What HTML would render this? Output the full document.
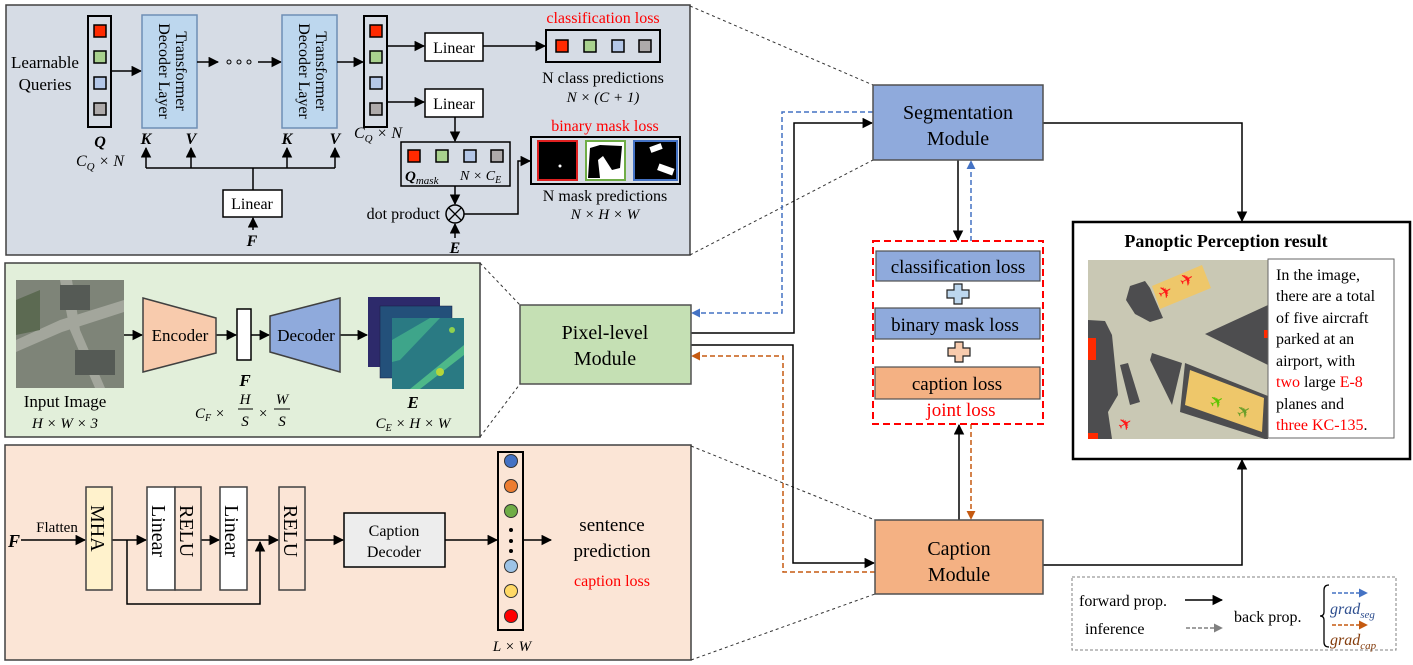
<!DOCTYPE html>
<html><head><meta charset="utf-8"><style>
html,body{margin:0;padding:0;background:#fff;}
svg{display:block;font-family:"Liberation Serif",serif;}
</style></head><body>
<svg width="1413" height="665" viewBox="0 0 1413 665" xmlns="http://www.w3.org/2000/svg">
<defs>
<marker id="a" viewBox="0 0 10 10" refX="9" refY="5" markerWidth="7" markerHeight="7" orient="auto"><path d="M0,0L10,5L0,10z" fill="#000"/></marker>
<marker id="ab" viewBox="0 0 10 10" refX="9" refY="5" markerWidth="6" markerHeight="6" orient="auto"><path d="M0,0L10,5L0,10z" fill="#4472c4"/></marker>
<marker id="ao" viewBox="0 0 10 10" refX="9" refY="5" markerWidth="6" markerHeight="6" orient="auto"><path d="M0,0L10,5L0,10z" fill="#c55a11"/></marker>
<marker id="ag" viewBox="0 0 10 10" refX="9" refY="5" markerWidth="6" markerHeight="6" orient="auto"><path d="M0,0L10,5L0,10z" fill="#808080"/></marker>
</defs>

<!-- ============ TOP PANEL ============ -->
<rect x="6" y="5" width="684" height="250" fill="#d6dce5" stroke="#404040" stroke-width="1.5"/>
<g font-size="17" text-anchor="middle">
<text x="45" y="68">Learnable</text><text x="45" y="90">Queries</text>
</g>
<rect x="88" y="16" width="23" height="111" fill="#d6dce5" stroke="#000" stroke-width="2"/>
<g stroke="#000" stroke-width="1.5">
<rect x="94" y="25" width="12" height="12" fill="#ff2a00"/>
<rect x="94" y="51" width="12" height="12" fill="#a9d18e"/>
<rect x="94" y="77" width="12" height="12" fill="#b4c7e7"/>
<rect x="94" y="103" width="12" height="12" fill="#aeaaaa"/>
</g>
<text x="100" y="147" font-size="16" font-weight="bold" font-style="italic" text-anchor="middle">Q</text>
<text x="100" y="166" font-size="16" font-style="italic" text-anchor="middle">C<tspan font-size="11" dy="4">Q</tspan><tspan dy="-4"> × N</tspan></text>
<line x1="111" y1="71" x2="141" y2="71" stroke="#000" stroke-width="1.5" marker-end="url(#a)"/>
<rect x="142" y="15" width="55" height="113" fill="#bdd7ee" stroke="#6f8fb5" stroke-width="1.5"/>
<g font-size="16" text-anchor="middle" transform="translate(176,71) rotate(90)"><text x="0" y="0">Transformer</text><text x="0" y="17">Decoder Layer</text></g>
<line x1="197" y1="62" x2="218" y2="62" stroke="#000" stroke-width="1.5" marker-end="url(#a)"/>
<g fill="none" stroke="#000" stroke-width="1"><circle cx="229" cy="62" r="2"/><circle cx="239" cy="62" r="2"/><circle cx="249" cy="62" r="2"/></g>
<line x1="258" y1="62" x2="281" y2="62" stroke="#000" stroke-width="1.5" marker-end="url(#a)"/>
<rect x="282" y="15" width="55" height="113" fill="#bdd7ee" stroke="#6f8fb5" stroke-width="1.5"/>
<g font-size="16" text-anchor="middle" transform="translate(316,71) rotate(90)"><text x="0" y="0">Transformer</text><text x="0" y="17">Decoder Layer</text></g>
<line x1="337" y1="62" x2="363" y2="62" stroke="#000" stroke-width="1.5" marker-end="url(#a)"/>
<rect x="364" y="16" width="23" height="111" fill="#d6dce5" stroke="#000" stroke-width="2"/>
<g stroke="#000" stroke-width="1.5">
<rect x="370" y="25" width="12" height="12" fill="#ff2a00"/>
<rect x="370" y="51" width="12" height="12" fill="#a9d18e"/>
<rect x="370" y="77" width="12" height="12" fill="#b4c7e7"/>
<rect x="370" y="103" width="12" height="12" fill="#aeaaaa"/>
</g>
<text x="378" y="138" font-size="16" font-style="italic" text-anchor="middle">C<tspan font-size="11" dy="4">Q</tspan><tspan dy="-4"> × N</tspan></text>
<g font-size="16" font-weight="bold" font-style="italic" text-anchor="middle">
<text x="146" y="144">K</text><text x="191" y="144">V</text><text x="287" y="144">K</text><text x="335" y="144">V</text>
</g>
<g stroke="#000" stroke-width="1.5" fill="none">
<polyline points="146,168 335,168"/>
<line x1="146" y1="168" x2="146" y2="148" marker-end="url(#a)"/>
<line x1="191" y1="168" x2="191" y2="148" marker-end="url(#a)"/>
<line x1="287" y1="168" x2="287" y2="148" marker-end="url(#a)"/>
<line x1="335" y1="168" x2="335" y2="148" marker-end="url(#a)"/>
<line x1="253" y1="190" x2="253" y2="168"/>
<line x1="253" y1="230" x2="253" y2="218" marker-end="url(#a)"/>
</g>
<rect x="223" y="190" width="59" height="27" fill="#fff" stroke="#000" stroke-width="1.5"/>
<text x="252" y="209" font-size="16" text-anchor="middle">Linear</text>
<text x="252" y="246" font-size="16" font-weight="bold" font-style="italic" text-anchor="middle">F</text>

<g stroke="#000" stroke-width="1.5" fill="none">
<line x1="387" y1="46" x2="424" y2="46" marker-end="url(#a)"/>
<line x1="483" y1="46" x2="545" y2="46" marker-end="url(#a)"/>
<line x1="387" y1="102" x2="424" y2="102" marker-end="url(#a)"/>
<line x1="455" y1="117" x2="455" y2="141" marker-end="url(#a)"/>
<line x1="455" y1="186" x2="455" y2="204" marker-end="url(#a)"/>
<line x1="455" y1="238" x2="455" y2="224" marker-end="url(#a)"/>
<polyline points="464,214 518,214 518,161 530,161" marker-end="url(#a)"/>
</g>
<rect x="425" y="33" width="58" height="28" fill="#fff" stroke="#000" stroke-width="1.5"/>
<text x="454" y="53" font-size="16" text-anchor="middle">Linear</text>
<rect x="425" y="89" width="58" height="28" fill="#fff" stroke="#000" stroke-width="1.5"/>
<text x="454" y="109" font-size="16" text-anchor="middle">Linear</text>
<rect x="546" y="30" width="114" height="32" fill="#d6dce5" stroke="#000" stroke-width="2"/>
<g stroke="#000" stroke-width="1.5">
<rect x="556" y="40" width="12" height="12" fill="#ff2a00"/>
<rect x="584" y="40" width="12" height="12" fill="#a9d18e"/>
<rect x="612" y="40" width="12" height="12" fill="#b4c7e7"/>
<rect x="639" y="40" width="12" height="12" fill="#aeaaaa"/>
</g>
<text x="603" y="23" font-size="16" fill="#ff0000" text-anchor="middle">classification loss</text>
<text x="603" y="83" font-size="16" text-anchor="middle">N class predictions</text>
<text x="603" y="102" font-size="15" font-style="italic" text-anchor="middle">N × (C + 1)</text>
<rect x="401" y="142" width="109" height="44" fill="#d6dce5" stroke="#000" stroke-width="1.5"/>
<g stroke="#000" stroke-width="1.5">
<rect x="408" y="150" width="12" height="12" fill="#ff2a00"/>
<rect x="436" y="150" width="12" height="12" fill="#a9d18e"/>
<rect x="464" y="150" width="12" height="12" fill="#b4c7e7"/>
<rect x="491" y="150" width="12" height="12" fill="#aeaaaa"/>
</g>
<text x="405" y="181" font-size="15" font-weight="bold" font-style="italic">Q<tspan font-size="11" font-weight="normal" dy="3">mask</tspan></text>
<text x="460" y="180" font-size="14" font-style="italic">N × C<tspan font-size="10" dy="3">E</tspan></text>
<circle cx="455" cy="214" r="9" fill="none" stroke="#000" stroke-width="1.5"/>
<path d="M449,208L461,220M461,208L449,220" stroke="#000" stroke-width="1.3"/>
<text x="440" y="219" font-size="16" text-anchor="end">dot product</text>
<text x="455" y="253" font-size="16" font-weight="bold" font-style="italic" text-anchor="middle">E</text>
<rect x="531" y="137" width="149" height="47" fill="#d6dce5" stroke="#000" stroke-width="2"/>
<rect x="538" y="141" width="39" height="39" fill="#000" stroke="#e02020" stroke-width="2"/>
<circle cx="560" cy="166" r="1.5" fill="#fff"/>
<rect x="586" y="141" width="39" height="39" fill="#fff" stroke="#70ad47" stroke-width="2"/>
<path d="M590,148L600,145L622,146L620,168L612,170L603,156L598,160L600,178L588,178Z" fill="#000"/>
<rect x="634" y="141" width="43" height="39" fill="#000" stroke="#4472c4" stroke-width="2"/>
<rect x="650" y="145" width="12" height="6" fill="#fff" transform="rotate(-20 656 148)"/>
<rect x="658" y="166" width="16" height="7" fill="#fff" transform="rotate(20 666 169)"/>
<text x="605" y="131" font-size="16" fill="#ff0000" text-anchor="middle">binary mask loss</text>
<text x="605" y="201" font-size="16" text-anchor="middle">N mask predictions</text>
<text x="605" y="219" font-size="15" font-style="italic" text-anchor="middle">N × H × W</text>

<!-- ============ GREEN PANEL ============ -->
<rect x="5" y="263" width="475" height="174" fill="#e2efda" stroke="#404040" stroke-width="1.5"/>
<rect x="16" y="280" width="108" height="108" fill="#7e8478"/>
<path d="M16,340L60,320L124,300L124,312L62,332L16,352Z" fill="#a3a69c"/>
<path d="M60,280L70,330L95,388L105,388L80,330L72,280Z" fill="#a3a69c"/>
<rect x="60" y="285" width="30" height="25" fill="#555a55"/>
<rect x="75" y="350" width="40" height="25" fill="#555a55"/>
<path d="M16,300L40,290L40,330L16,335Z" fill="#5c6a52"/>
<text x="65" y="407" font-size="17" text-anchor="middle">Input Image</text>
<text x="65" y="428" font-size="15" font-style="italic" text-anchor="middle">H × W × 3</text>
<g stroke="#000" stroke-width="1.5">
<line x1="124" y1="335" x2="142" y2="335" marker-end="url(#a)"/>
<line x1="216" y1="335" x2="236" y2="335" marker-end="url(#a)"/>
<line x1="251" y1="335" x2="269" y2="335" marker-end="url(#a)"/>
<line x1="340" y1="335" x2="367" y2="335" marker-end="url(#a)"/>
</g>
<polygon points="143,298 216,318 216,353 143,372" fill="#f8cbad" stroke="#404040" stroke-width="1.5"/>
<text x="180" y="341" font-size="17" text-anchor="middle">Encoder</text>
<rect x="237" y="309" width="14" height="51" fill="#fff" stroke="#000" stroke-width="1.5"/>
<text x="245" y="386" font-size="17" font-weight="bold" font-style="italic" text-anchor="middle">F</text>
<g font-size="15" font-style="italic" text-anchor="middle">
<text x="210" y="418">C<tspan font-size="10" dy="3">F</tspan><tspan dy="-3"> ×</tspan></text>
<text x="245" y="404">H</text><line x1="238" y1="409" x2="253" y2="409" stroke="#000"/><text x="245" y="426">S</text>
<text x="263" y="418">×</text>
<text x="282" y="404">W</text><line x1="274" y1="409" x2="290" y2="409" stroke="#000"/><text x="282" y="426">S</text>
</g>
<polygon points="270,316 340,298 340,372 270,352" fill="#8faadc" stroke="#404040" stroke-width="1.5"/>
<text x="306" y="341" font-size="17" text-anchor="middle">Decoder</text>
<rect x="368" y="297" width="72" height="70" fill="#2d2a6b"/>
<rect x="380" y="306" width="72" height="72" fill="#23507a" stroke="#1a1a40" stroke-width="0.5"/>
<rect x="392" y="318" width="72" height="71" fill="#2a7a83"/>
<path d="M392,340L430,318L440,318L400,360L392,362Z" fill="#3ea58a"/>
<path d="M410,389L464,345L464,355L420,389Z" fill="#4db889"/>
<circle cx="440" cy="372" r="4" fill="#b5d63a"/><circle cx="452" cy="330" r="3" fill="#8fd14f"/>
<text x="413" y="408" font-size="17" font-weight="bold" font-style="italic" text-anchor="middle">E</text>
<text x="413" y="428" font-size="15" font-style="italic" text-anchor="middle">C<tspan font-size="10" dy="3">E</tspan><tspan dy="-3"> × H × W</tspan></text>

<!-- ============ PEACH PANEL ============ -->
<rect x="5" y="445" width="686" height="215" fill="#fbe5d6" stroke="#404040" stroke-width="1.5"/>
<text x="14" y="547" font-size="18" font-weight="bold" font-style="italic" text-anchor="middle">F</text>
<text x="57" y="532" font-size="15" text-anchor="middle">Flatten</text>
<g stroke="#000" stroke-width="1.5" fill="none">
<line x1="21" y1="540" x2="85" y2="540" marker-end="url(#a)"/>
<line x1="112" y1="540" x2="146" y2="540" marker-end="url(#a)"/>
<line x1="201" y1="540" x2="219" y2="540" marker-end="url(#a)"/>
<line x1="247" y1="540" x2="278" y2="540" marker-end="url(#a)"/>
<polyline points="127,540 127,604 260,604 260,542" marker-end="url(#a)"/>
<line x1="305" y1="540" x2="343" y2="540" marker-end="url(#a)"/>
<line x1="445" y1="540" x2="497" y2="540" marker-end="url(#a)"/>
<line x1="523" y1="540" x2="551" y2="540" marker-end="url(#a)"/>
</g>
<rect x="86" y="487" width="26" height="103" fill="#fff2cc" stroke="#404040" stroke-width="1.5"/>
<rect x="147" y="487" width="28" height="103" fill="#fff" stroke="#404040" stroke-width="1.5"/>
<rect x="175" y="487" width="26" height="103" fill="#fbe5d6" stroke="#404040" stroke-width="1.5"/>
<rect x="220" y="487" width="27" height="103" fill="#fff" stroke="#404040" stroke-width="1.5"/>
<rect x="279" y="487" width="26" height="103" fill="#fbe5d6" stroke="#404040" stroke-width="1.5"/>
<g font-size="20">
<text transform="translate(91,505) rotate(90)">MHA</text>
<text transform="translate(152,505) rotate(90)">Linear</text>
<text transform="translate(180,505) rotate(90)">RELU</text>
<text transform="translate(225,505) rotate(90)">Linear</text>
<text transform="translate(284,505) rotate(90)">RELU</text>
</g>
<rect x="344" y="513" width="101" height="54" fill="#ededed" stroke="#000" stroke-width="1.5"/>
<text x="394" y="536" font-size="16" text-anchor="middle">Caption</text>
<text x="394" y="557" font-size="16" text-anchor="middle">Decoder</text>
<rect x="498" y="452" width="25" height="178" fill="#fbe5d6" stroke="#000" stroke-width="2"/>
<g stroke="#333" stroke-width="1">
<circle cx="511" cy="461" r="6.5" fill="#4472c4"/>
<circle cx="511" cy="486" r="6.5" fill="#ed7d31"/>
<circle cx="511" cy="511" r="6.5" fill="#70ad47"/>
<circle cx="511" cy="566" r="6.5" fill="#9dc3e6"/>
<circle cx="511" cy="591" r="6.5" fill="#ffd966"/>
<circle cx="511" cy="616" r="6.5" fill="#ff0000"/>
</g>
<circle cx="511" cy="530" r="2" fill="#000"/><circle cx="511" cy="541" r="2" fill="#000"/><circle cx="511" cy="551" r="2" fill="#000"/>
<text x="612" y="531" font-size="19" text-anchor="middle">sentence</text>
<text x="612" y="557" font-size="19" text-anchor="middle">prediction</text>
<text x="612" y="586" font-size="16" fill="#ff0000" text-anchor="middle">caption loss</text>
<text x="512" y="651" font-size="15" font-style="italic" text-anchor="middle">L × W</text>

<!-- ============ DOTTED ZOOM LINES ============ -->
<g stroke="#333" stroke-width="1" stroke-dasharray="3,3" fill="none">
<line x1="690" y1="6" x2="873" y2="85"/>
<line x1="690" y1="255" x2="873" y2="160"/>
<line x1="480" y1="263" x2="520" y2="305"/>
<line x1="480" y1="437" x2="520" y2="384"/>
<line x1="691" y1="446" x2="875" y2="520"/>
<line x1="691" y1="660" x2="875" y2="594"/>
</g>

<!-- ============ MIDDLE ============ -->
<g stroke="#000" stroke-width="1.5" fill="none">
<polyline points="691,333 794,333 794,123 872,123" marker-end="url(#a)"/>
<polyline points="691,345 793,345 793,563 874,563" marker-end="url(#a)"/>
<line x1="958" y1="160" x2="958" y2="240" marker-end="url(#a)"/>
<line x1="959" y1="520" x2="959" y2="425" marker-end="url(#a)"/>
<polyline points="1043,123 1242,123 1242,221" marker-end="url(#a)"/>
<polyline points="1043,565 1242,565 1242,460" marker-end="url(#a)"/>
</g>
<g fill="none" stroke-width="1.5" stroke-dasharray="5,3">
<polyline points="873,112 782,112 782,313 692,313" stroke="#4472c4" marker-end="url(#ab)"/>
<line x1="971" y1="241" x2="971" y2="161" stroke="#4472c4" marker-end="url(#ab)"/>
<polyline points="875,572 783,572 783,356 692,356" stroke="#c55a11" marker-end="url(#ao)"/>
<line x1="971" y1="424" x2="971" y2="519" stroke="#c55a11" marker-end="url(#ao)"/>
</g>
<rect x="520" y="305" width="171" height="79" fill="#c5e0b4" stroke="#505050" stroke-width="1.5"/>
<text x="605" y="339" font-size="20" text-anchor="middle">Pixel-level</text>
<text x="605" y="365" font-size="20" text-anchor="middle">Module</text>
<rect x="873" y="85" width="170" height="75" fill="#8faadc" stroke="#505050" stroke-width="1.5"/>
<text x="958" y="119" font-size="20" text-anchor="middle">Segmentation</text>
<text x="958" y="145" font-size="20" text-anchor="middle">Module</text>
<rect x="875" y="520" width="168" height="74" fill="#f4b183" stroke="#505050" stroke-width="1.5"/>
<text x="959" y="555" font-size="20" text-anchor="middle">Caption</text>
<text x="959" y="581" font-size="20" text-anchor="middle">Module</text>

<rect x="873" y="241" width="170" height="183" fill="#fff" stroke="#ff0000" stroke-width="2" stroke-dasharray="7,4"/>
<rect x="876" y="251" width="164" height="30" fill="#8faadc" stroke="#505050" stroke-width="1.2"/>
<text x="958" y="273" font-size="19" text-anchor="middle">classification loss</text>
<path d="M954,284h8v6h7v8h-7v6h-8v-6h-7v-8h7z" fill="#bdd7ee" stroke="#222" stroke-width="1.2"/>
<rect x="875" y="308" width="165" height="31" fill="#8faadc" stroke="#505050" stroke-width="1.2"/>
<text x="955" y="331" font-size="19" text-anchor="middle">binary mask loss</text>
<path d="M955,342h8v6h7v8h-7v6h-8v-6h-7v-8h7z" fill="#f8cbad" stroke="#222" stroke-width="1.2"/>
<rect x="875" y="367" width="165" height="32" fill="#f4b183" stroke="#505050" stroke-width="1.2"/>
<text x="957" y="390" font-size="19" text-anchor="middle">caption loss</text>
<text x="961" y="416" font-size="19" fill="#ff0000" text-anchor="middle">joint loss</text>

<!-- ============ RESULT ============ -->
<rect x="1073" y="222" width="337" height="237" fill="#fff" stroke="#000" stroke-width="2.5"/>
<text x="1226" y="247" font-size="18" font-weight="bold" text-anchor="middle">Panoptic Perception result</text>
<svg x="1088" y="260" width="180" height="179" viewBox="1088 260 180 179">
<rect x="1088" y="260" width="180" height="179" fill="#c9c8b4"/>
<path d="M1130,286L1145,281L1150,288L1163,318L1150,322L1135,314L1126,300Z" fill="#4d4d4f"/>
<path d="M1152,286L1202,265L1211,288L1160,309Z" fill="#eec76a"/>
<path d="M1205,334L1268,305L1268,365Z" fill="#4d4d4f"/>
<path d="M1088,320L1105,321L1112,335L1118,395L1108,412L1112,439L1088,439Z" fill="#4d4d4f"/>
<rect x="1088" y="338" width="8" height="22" fill="#ff2a00"/>
<rect x="1088" y="433" width="10" height="6" fill="#ff2a00"/>
<path d="M1152,353L1182,363L1172,405L1150,360Z" fill="#4d4d4f"/>
<path d="M1120,365L1128,363L1140,402L1130,405Z" fill="#4d4d4f"/>
<path d="M1185,363L1268,396L1268,440L1180,412Z" fill="#4d4d4f"/>
<path d="M1190,370L1264,398L1262,432L1185,405Z" fill="#eec76a"/>
<rect x="1264" y="330" width="4" height="8" fill="#ff2a00"/>
<g font-family="DejaVu Sans,sans-serif" font-size="17">
<text x="1158" y="298" fill="#ff1a1a" transform="rotate(-30 1165 292)">✈</text>
<text x="1180" y="285" fill="#ff1a1a" transform="rotate(-30 1188 280)">✈</text>
<text x="1118" y="430" fill="#ff1a1a" transform="rotate(-30 1125 424)">✈</text>
<text x="1210" y="407" fill="#5ec400" transform="rotate(-30 1218 402)">✈</text>
<text x="1237" y="417" fill="#6a9e2a" transform="rotate(-30 1245 412)">✈</text>
</g>
</svg>
<rect x="1268" y="259" width="126" height="179" fill="#fff" stroke="#666" stroke-width="1"/>
<g font-size="16">
<text x="1276" y="280">In the image,</text>
<text x="1276" y="301">there are a total</text>
<text x="1276" y="323">of five aircraft</text>
<text x="1276" y="344">parked at an</text>
<text x="1276" y="366">airport, with</text>
<text x="1276" y="387"><tspan fill="#ff0000">two</tspan> large <tspan fill="#ff0000">E-8</tspan></text>
<text x="1276" y="409">planes and</text>
<text x="1276" y="430"><tspan fill="#ff0000">three KC-135</tspan>.</text>
</g>

<!-- ============ LEGEND ============ -->
<rect x="1072" y="577" width="324" height="73" fill="#fff" stroke="#808080" stroke-width="1" stroke-dasharray="3,2"/>
<text x="1079" y="606" font-size="16">forward prop.</text>
<line x1="1185" y1="600" x2="1222" y2="600" stroke="#000" stroke-width="1.5" marker-end="url(#a)"/>
<text x="1085" y="634" font-size="16">inference</text>
<line x1="1186" y1="628" x2="1222" y2="628" stroke="#808080" stroke-width="1.5" stroke-dasharray="4,2" marker-end="url(#ag)"/>
<text x="1234" y="622" font-size="16">back prop.</text>
<path d="M1329,585Q1324,585 1324,590L1324,612Q1324,616 1320,616Q1324,616 1324,620L1324,642Q1324,647 1329,647" fill="none" stroke="#000" stroke-width="1.3"/>
<line x1="1332" y1="593" x2="1367" y2="593" stroke="#4472c4" stroke-width="1.5" stroke-dasharray="4,2" marker-end="url(#ab)"/>
<text x="1330" y="614" font-size="16" font-style="italic" fill="#2f4f8f">grad<tspan font-size="11" dy="4">seg</tspan></text>
<line x1="1332" y1="625" x2="1367" y2="625" stroke="#c55a11" stroke-width="1.5" stroke-dasharray="4,2" marker-end="url(#ao)"/>
<text x="1330" y="645" font-size="16" font-style="italic" fill="#843c0c">grad<tspan font-size="11" dy="4">cap</tspan></text>
</svg>
</body></html>
